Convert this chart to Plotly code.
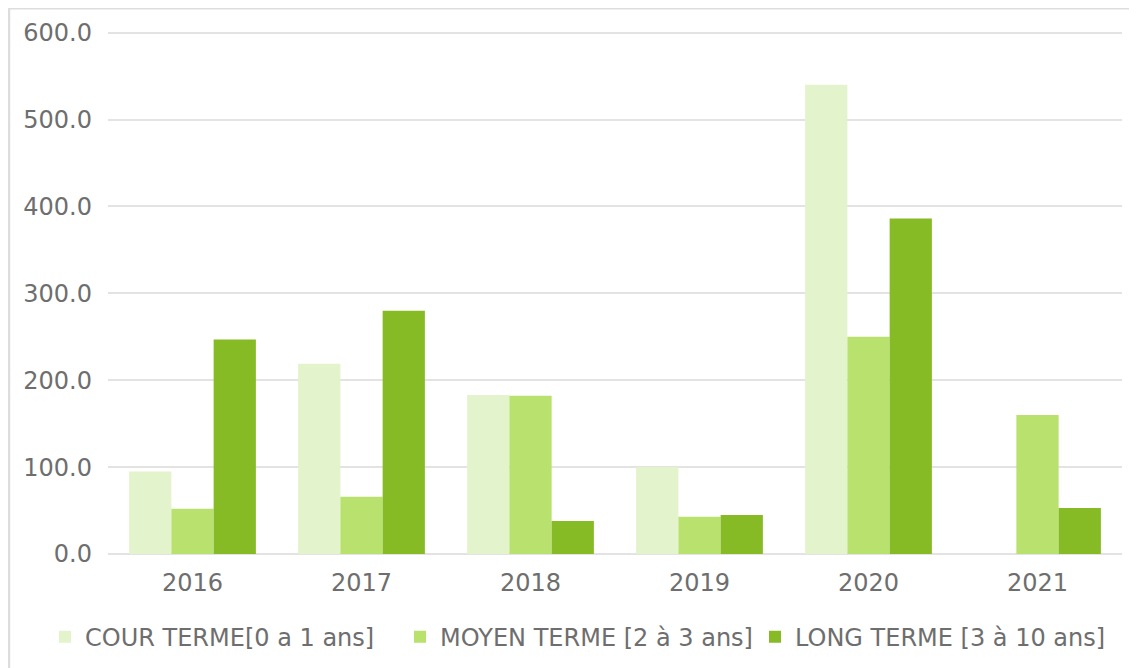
import plotly.graph_objects as go

years = ["2016", "2017", "2018", "2019", "2020", "2021"]
cour = [95, 219, 183, 100, 540, 0]
moyen = [52, 66, 182, 43, 250, 160]
long_ = [247, 280, 38, 45, 386, 53]
names = ["COUR TERME[0 a 1 ans]", "MOYEN TERME [2 à 3 ans]", "LONG TERME [3 à 10 ans]"]
colors = ["#e3f3cc", "#b9e16e", "#86bb26"]
y_ticks = [0, 100, 200, 300, 400, 500, 600]
y_max = 610

# page has an 8px body margin; figure coordinates are page coordinates minus 8
OFF = 8
W, H = 1137 - OFF, 668 - OFF
y0_px, y600_px = 554 - OFF, 33 - OFF
top_px = y0_px - (y0_px - y600_px) * y_max / 600
L, T = 108 - OFF, top_px
B = H - y0_px
R = W - (1122 - OFF)
pw, ph = W - L - R, H - T - B
FS = 24
GREY = "#6e6e6e"

fig = go.Figure()
for vals, nm, c in zip([cour, moyen, long_], names, colors):
    fig.add_trace(go.Bar(x=years, y=vals, name=nm, marker=dict(color=c, line=dict(width=0))))

fig.update_layout(
    width=W, height=H,
    margin=dict(l=L, r=R, t=T, b=B, autoexpand=False),
    paper_bgcolor="white", plot_bgcolor="white",
    barmode="group", bargap=0.25, bargroupgap=0,
    font=dict(family="DejaVu Sans, Verdana, sans-serif", size=FS, color=GREY),
    showlegend=True,
    legend=dict(orientation="h", x=(45 - OFF - L) / pw, xanchor="left",
                y=(H - B - (637 - OFF)) / ph, yanchor="middle",
                font=dict(size=FS, color=GREY), itemwidth=30, traceorder="normal",
                entrywidth=310, entrywidthmode="pixels",
                bgcolor="rgba(0,0,0,0)"),
    xaxis=dict(showgrid=False, showline=False, ticks="", automargin=False, ticklabelstandoff=12,
               tickfont=dict(size=FS, color=GREY)),
    yaxis=dict(range=[0, y_max], tickvals=y_ticks, ticktext=[f"{v:.1f}" for v in y_ticks],
               showgrid=True, gridcolor="#e3e3e3", gridwidth=2, zeroline=True, automargin=False,
               zerolinecolor="#e3e3e3", zerolinewidth=2, ticks="", ticklabelstandoff=15,
               tickfont=dict(size=FS, color=GREY)),
    shapes=[dict(type="rect", xref="paper", yref="paper",
                 x0=(1 - L) / pw, x1=(W + 20 - L) / pw,
                 y0=(H - B - (H + 20)) / ph, y1=(H - B - 0.5) / ph,
                 line=dict(color="#dddddd", width=2.5), fillcolor="rgba(0,0,0,0)", layer="below")],
)

fig.write_html("out.html")
